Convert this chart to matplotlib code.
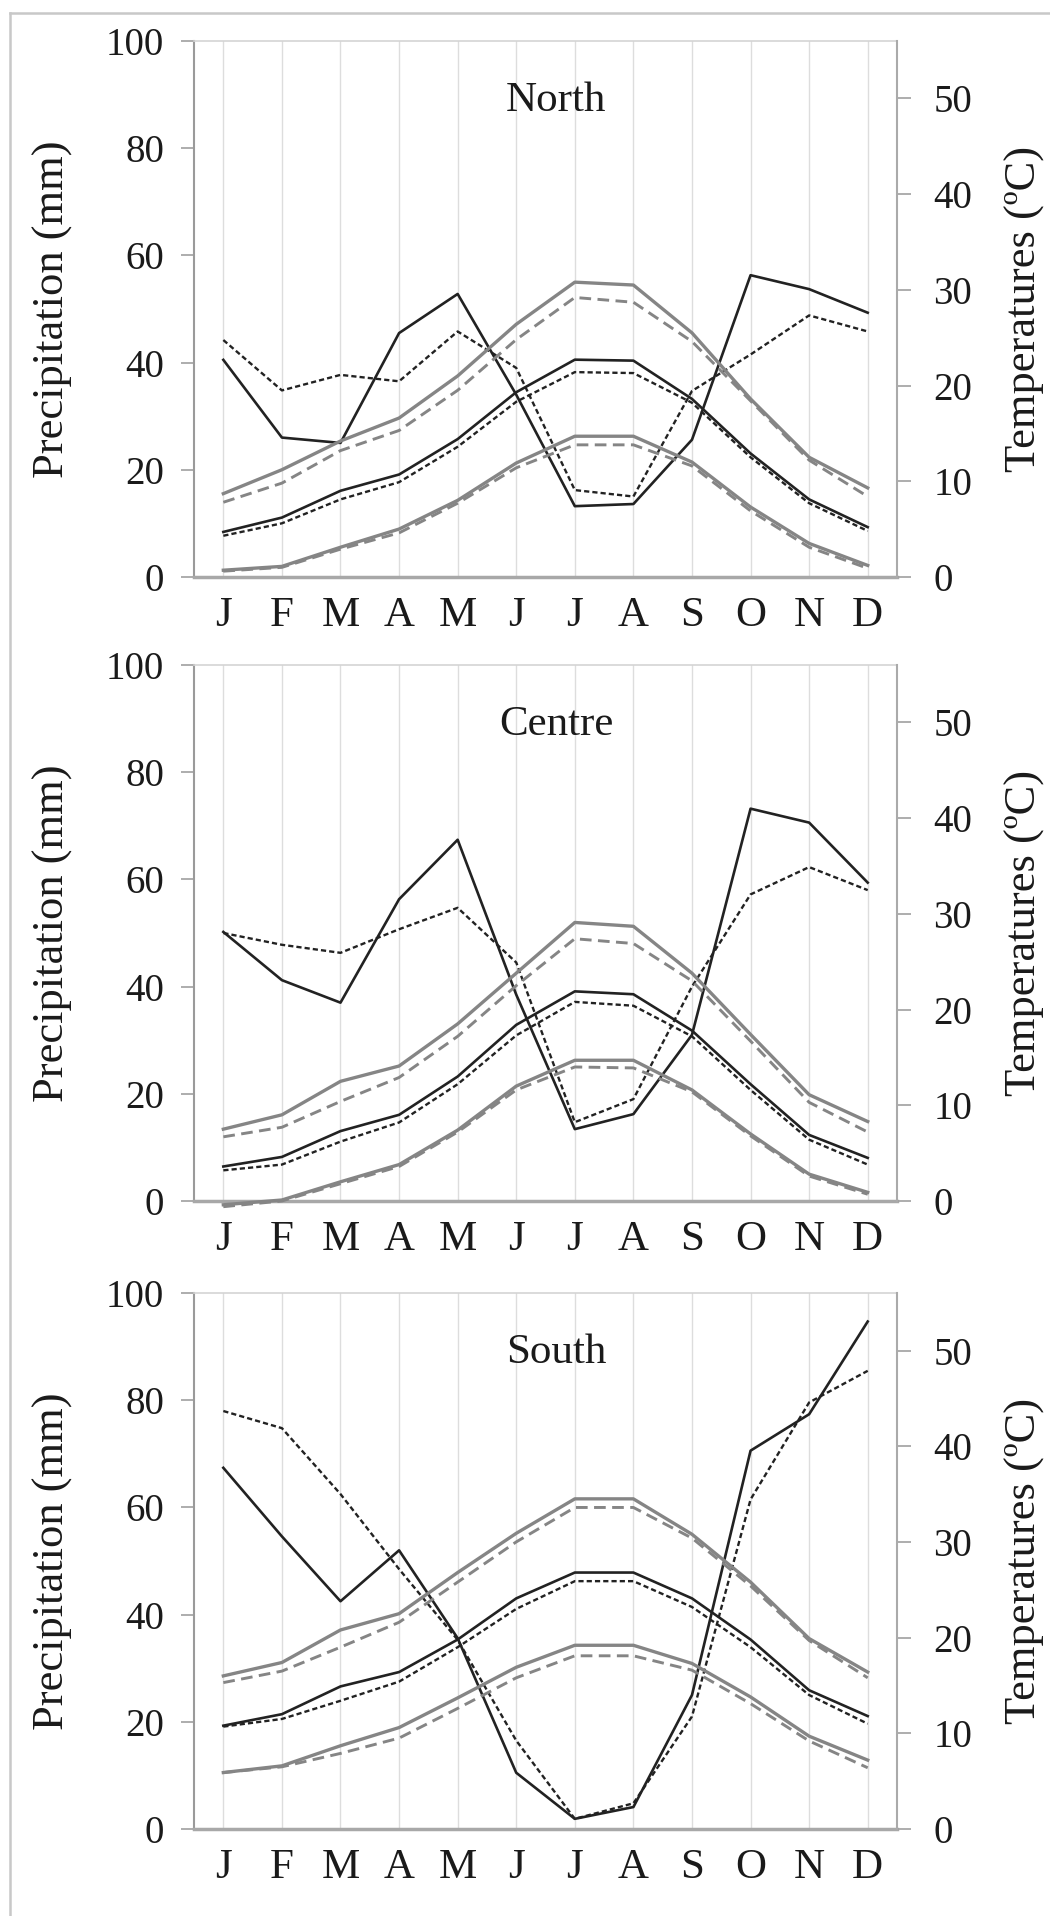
import matplotlib.pyplot as plt
from matplotlib.lines import Line2D

months = ['J', 'F', 'M', 'A', 'M', 'J', 'J', 'A', 'S', 'O', 'N', 'D']
regions = ['North', 'Centre', 'South']

# precipitation (mm), solid = period 1, dashed = period 2
north_prec_1 = [40.5, 26.0, 25.0, 45.5, 52.8, 34.0, 13.2, 13.6, 25.6, 56.3, 53.7, 49.3]
north_prec_2 = [44.2, 34.8, 37.7, 36.5, 45.8, 39.0, 16.2, 15.0, 34.7, 41.5, 48.8, 45.8]
centre_prec_1 = [50.2, 41.2, 37.0, 56.3, 67.4, 38.5, 13.4, 16.2, 31.0, 73.2, 70.6, 59.4]
centre_prec_2 = [50.0, 47.8, 46.3, 50.7, 54.7, 44.5, 14.7, 19.0, 40.0, 57.2, 62.3, 58.0]
south_prec_1 = [67.4, 54.6, 42.5, 52.0, 35.6, 10.5, 1.9, 4.1, 25.0, 70.6, 77.4, 94.7]
south_prec_2 = [78.0, 74.8, 62.5, 48.5, 35.3, 16.5, 1.9, 4.8, 21.0, 61.5, 79.6, 85.5]

# temperatures (deg C): max, mean, min for both periods
north_tmax_1 = [8.7, 11.2, 14.2, 16.6, 21.0, 26.4, 30.8, 30.5, 25.5, 18.6, 12.5, 9.3]
north_tmax_2 = [7.8, 9.8, 13.2, 15.3, 19.5, 24.8, 29.2, 28.7, 24.6, 18.4, 12.2, 8.4]
north_tmean_1 = [4.7, 6.2, 9.0, 10.7, 14.4, 19.3, 22.7, 22.6, 18.6, 12.9, 8.1, 5.2]
north_tmean_2 = [4.3, 5.6, 8.1, 9.9, 13.6, 18.3, 21.4, 21.3, 18.2, 12.5, 7.7, 4.8]
north_tmin_1 = [0.7, 1.1, 3.1, 5.0, 8.0, 11.9, 14.7, 14.7, 12.0, 7.3, 3.5, 1.2]
north_tmin_2 = [0.6, 1.0, 2.9, 4.6, 7.7, 11.4, 13.8, 13.8, 11.6, 6.9, 3.1, 0.9]

centre_tmax_1 = [7.5, 9.0, 12.5, 14.1, 18.5, 23.8, 29.1, 28.7, 23.8, 17.4, 11.1, 8.3]
centre_tmax_2 = [6.7, 7.7, 10.4, 12.9, 17.2, 22.5, 27.4, 26.9, 23.0, 16.7, 10.3, 7.2]
centre_tmean_1 = [3.6, 4.6, 7.3, 9.0, 13.0, 18.4, 21.9, 21.6, 17.8, 12.2, 6.9, 4.5]
centre_tmean_2 = [3.2, 3.8, 6.2, 8.2, 12.2, 17.3, 20.8, 20.4, 17.2, 11.6, 6.4, 3.8]
centre_tmin_1 = [-0.4, 0.1, 2.0, 3.8, 7.4, 12.0, 14.7, 14.7, 11.6, 7.0, 2.8, 0.9]
centre_tmin_2 = [-0.6, 0.0, 1.8, 3.6, 7.2, 11.6, 14.0, 13.9, 11.4, 6.8, 2.6, 0.7]

south_tmax_1 = [16.0, 17.4, 20.8, 22.5, 26.8, 30.9, 34.5, 34.5, 30.8, 25.8, 19.9, 16.4]
south_tmax_2 = [15.3, 16.5, 19.0, 21.6, 25.8, 30.0, 33.6, 33.6, 30.4, 25.4, 19.7, 15.8]
south_tmean_1 = [10.8, 12.0, 14.9, 16.4, 19.8, 24.1, 26.8, 26.8, 24.1, 19.8, 14.5, 11.8]
south_tmean_2 = [10.7, 11.5, 13.4, 15.4, 19.0, 23.0, 25.9, 25.9, 23.2, 19.0, 14.0, 11.0]
south_tmin_1 = [5.9, 6.6, 8.7, 10.6, 13.7, 16.9, 19.2, 19.2, 17.3, 13.8, 9.7, 7.2]
south_tmin_2 = [5.9, 6.5, 7.9, 9.5, 12.6, 15.8, 18.1, 18.1, 16.6, 13.1, 9.2, 6.4]

prec = {
    'North': (north_prec_1, north_prec_2),
    'Centre': (centre_prec_1, centre_prec_2),
    'South': (south_prec_1, south_prec_2),
}
temps = {
    'North': (north_tmax_1, north_tmax_2, north_tmean_1, north_tmean_2, north_tmin_1, north_tmin_2),
    'Centre': (centre_tmax_1, centre_tmax_2, centre_tmean_1, centre_tmean_2, centre_tmin_1, centre_tmin_2),
    'South': (south_tmax_1, south_tmax_2, south_tmean_1, south_tmean_2, south_tmin_1, south_tmin_2),
}

plt.rcParams['font.family'] = ['Liberation Serif', 'DejaVu Serif']

black = '#222222'
gray = '#858585'
x = list(range(12))

fig = plt.figure(figsize=(10.5, 19.16), dpi=100)

bottoms = [0.6989, 0.3732, 0.0454]
for name, b in zip(regions, bottoms):
    ax = fig.add_axes([0.1848, b, 0.6695, 0.2797])
    ax2 = ax.twinx()

    p1, p2 = prec[name]
    ax.plot(x, p1, '-', color=black, lw=1.9, zorder=5)
    ax.plot(x, p2, color=black, lw=1.7, dashes=(2.2, 1.3), zorder=5)

    tmax1, tmax2, tmean1, tmean2, tmin1, tmin2 = temps[name]
    ax2.plot(x, tmax1, '-', color=gray, lw=2.4)
    ax2.plot(x, tmax2, color=gray, lw=2.1, dashes=(4.0, 2.2))
    ax2.plot(x, tmean1, '-', color=black, lw=1.9)
    ax2.plot(x, tmean2, color=black, lw=1.7, dashes=(2.2, 1.3))
    ax2.plot(x, tmin1, '-', color=gray, lw=2.4, clip_on=False)
    ax2.plot(x, tmin2, color=gray, lw=2.1, dashes=(4.0, 2.2), clip_on=False)

    ax.set_xlim(-0.5, 11.5)
    ax.set_ylim(0, 100)
    ax2.set_ylim(0, 56)
    ax.set_yticks([0, 20, 40, 60, 80, 100])
    ax2.set_yticks([0, 10, 20, 30, 40, 50])
    ax.set_xticks(x)
    ax.set_xticklabels(months)
    ax.grid(axis='x', color='#dddddd', lw=1.0)
    ax.set_axisbelow(True)

    ax.tick_params(axis='x', length=0, pad=14, labelsize=31, labelcolor='#1a1a1a')
    ax.tick_params(axis='y', length=9.5, width=1.2, color='#a0a0a0', pad=12,
                   labelsize=28, labelcolor='#1a1a1a')
    ax2.tick_params(axis='y', length=10, width=1.2, color='#a0a0a0', pad=16,
                    labelsize=28, labelcolor='#1a1a1a')

    ax.spines['left'].set_color('#9a9a9a')
    ax.spines['left'].set_linewidth(1.5)
    ax.spines['top'].set_color('#d4d4d4')
    ax.spines['top'].set_linewidth(1.2)
    ax.spines['bottom'].set_color('#a8a8a8')
    ax.spines['bottom'].set_linewidth(2.5)
    ax.spines['right'].set_visible(False)
    ax2.spines['right'].set_color('#aaaaaa')
    ax2.spines['right'].set_linewidth(1.5)
    for s in ['left', 'top', 'bottom']:
        ax2.spines[s].set_visible(False)

    ax.text(0.515, 0.869, name, transform=ax.transAxes, ha='center',
            va='baseline', fontsize=31, color='#1a1a1a')

    yc = b + 0.2797 / 2
    fig.text(0.0505, yc, 'Precipitation (mm)', rotation=90, ha='center',
             va='center', fontsize=32, color='#1a1a1a')
    fig.text(0.976, yc, 'Temperatures (\u00baC)', rotation=90, ha='center',
             va='center', fontsize=32, color='#1a1a1a')

# light frame on the left and top edges
fig.add_artist(Line2D([0.0095, 0.0095], [0, 0.9932], color='#c8c8c8', lw=1.8))
fig.add_artist(Line2D([0.0095, 1.0], [0.9932, 0.9932], color='#c8c8c8', lw=1.8))

fig.savefig('out.png', dpi=100)
